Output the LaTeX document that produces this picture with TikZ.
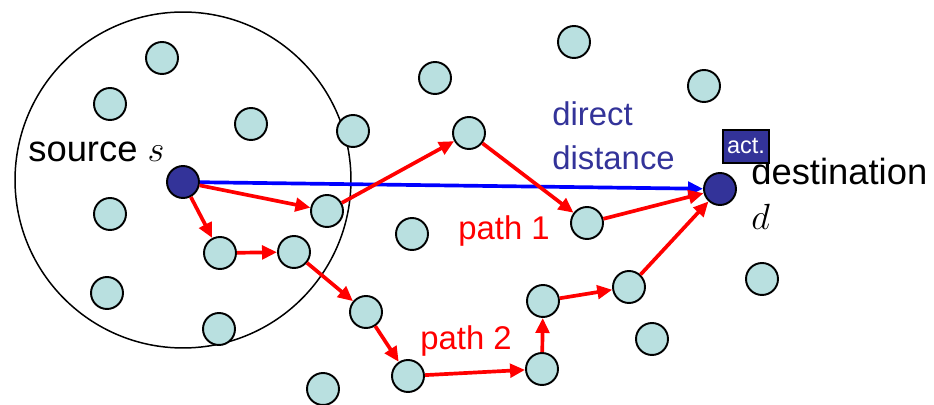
\documentclass[tikz,border=0pt]{standalone}
\usepackage{fontspec}
\setmainfont{Liberation Sans}
\definecolor{RelayCyan}{HTML}{B9E0E0}
\definecolor{ActBlue}{HTML}{333399}
\usetikzlibrary{arrows.meta}

\begin{document}
\begin{tikzpicture}[x=0.02cm, y=-0.02cm, >={Triangle[length=0.3cm, width=0.27cm]},
  relay/.style={circle, draw, line width=1.1pt, fill=RelayCyan, minimum size=0.64cm, inner sep=0pt},
  endpt/.style={relay, fill=ActBlue},
  hop/.style={->, red, line width=2.1pt},
  bigtext/.style={anchor=base west, inner sep=0pt, font=\fontsize{20.7}{24}\selectfont},
  pathtext/.style={anchor=base west, inner sep=0pt, font=\fontsize{18.7}{22}\selectfont}]
  \useasboundingbox (0,0) rectangle (934,405);
  % Range of the source
  \draw[line width=0.85pt] (183,180) circle (3.36cm);
  % Other relays
  \foreach \x/\y [count=\i] in {162/58, 110/104, 251/124, 353/131, 435/78, 110/214,
      412/234, 107/293, 219/329, 323/389, 574/42, 704/86, 762/279, 652/339}
    \node[relay] (r\i) at (\x,\y) {};
  % Source and destination
  \node[endpt] (s) at (183,182) {};
  \node[endpt] (d) at (720,189) {};
  % Relays on path 1
  \node[relay] (a1) at (327,211) {};
  \node[relay] (a2) at (469,133) {};
  \node[relay] (a3) at (587,223) {};
  % Relays on path 2
  \node[relay] (b1) at (220,253) {};
  \node[relay] (b2) at (294,252) {};
  \node[relay] (b3) at (366,312) {};
  \node[relay] (b4) at (408,376) {};
  \node[relay] (b5) at (542,369) {};
  \node[relay] (b6) at (543,301) {};
  \node[relay] (b7) at (629,287) {};
  % Direct distance
  \draw[->, blue, line width=2.1pt] (s) -- (d);
  % Path 1
  \draw[hop] (s) -- (a1);
  \draw[hop] (a1) -- (a2);
  \draw[hop] (a2) -- (a3);
  \draw[hop] (a3) -- (d);
  % Path 2
  \draw[hop] (s) -- (b1);
  \draw[hop] (b1) -- (b2);
  \draw[hop] (b2) -- (b3);
  \draw[hop] (b3) -- (b4);
  \draw[hop] (b4) -- (b5);
  \draw[hop] (b5) -- (b6);
  \draw[hop] (b6) -- (b7);
  \draw[hop] (b7) -- (d);
  % Labels
  \node[bigtext] (srclbl) at (28,162) {source $s$};
  \node[bigtext] (dstlbl) at (751,185) {destination};
  \node[bigtext] (dlbl) at (751,230) {$d$};
  \node[pathtext, ActBlue] (dirlbl) at (552,126) {direct};
  \node[pathtext, ActBlue] (distlbl) at (552,170) {distance};
  \node[pathtext, red] (p1lbl) at (458,240) {path 1};
  \node[pathtext, red] (p2lbl) at (420,350) {path 2};
  \node[draw, line width=0.9pt, fill=ActBlue, text=white, inner sep=0pt,
    minimum width=0.92cm, minimum height=0.66cm, font=\fontsize{13.4}{16}\selectfont]
    (act) at (746,146.5) {act.};
\end{tikzpicture}
\end{document}
